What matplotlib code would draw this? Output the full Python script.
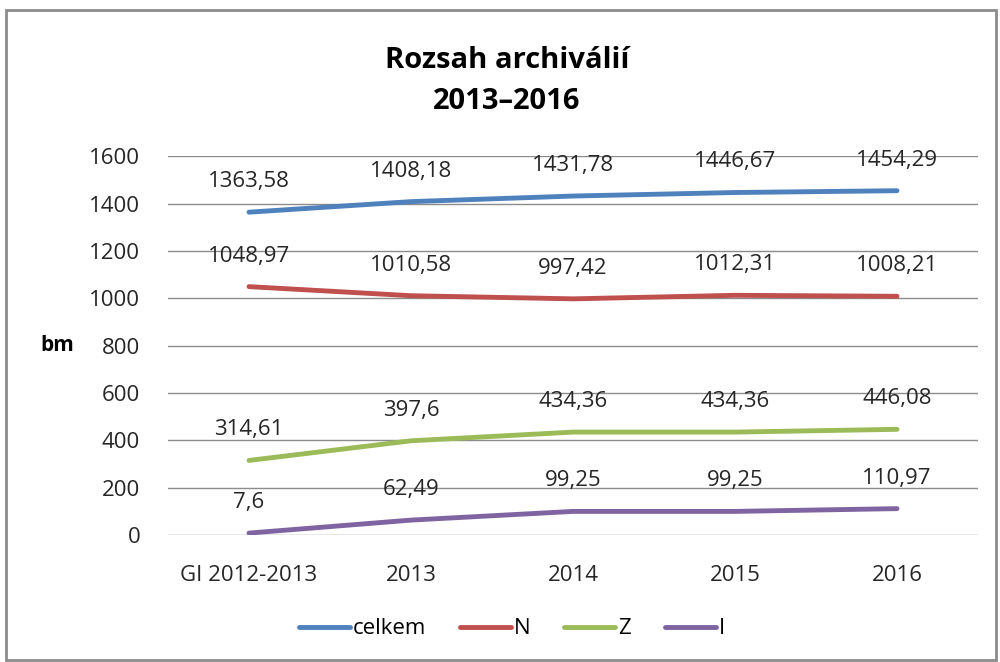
import matplotlib.pyplot as plt
from matplotlib.patches import Rectangle

categories = ["GI 2012-2013", "2013", "2014", "2015", "2016"]
celkem = [1363.58, 1408.18, 1431.78, 1446.67, 1454.29]
n_vals = [1048.97, 1010.58, 997.42, 1012.31, 1008.21]
z_vals = [314.61, 397.6, 434.36, 434.36, 446.08]
i_vals = [7.6, 62.49, 99.25, 99.25, 110.97]
series = [("celkem", celkem, "#4F81BD"),
          ("N", n_vals, "#C0504D"),
          ("Z", z_vals, "#9BBB59"),
          ("I", i_vals, "#8064A2")]

plt.rcParams['font.family'] = ['Open Sans', 'DejaVu Sans']

fig = plt.figure(figsize=(10, 6.62), dpi=100)
fig.patches.append(Rectangle((0.006, 0.003), 0.99, 0.982, transform=fig.transFigure,
                             fill=False, edgecolor="#8c8c8c", linewidth=2))
ax = fig.add_axes([0.168, 0.192, 0.81, 0.572])

x = list(range(len(categories)))
for name, vals, col in series:
    ax.plot(x, vals, color=col, linewidth=3.5, label=name, solid_capstyle="round")
    for xi, v in zip(x, vals):
        lbl = ("%g" % v).replace(".", ",")
        ax.annotate(lbl, (xi, v), xytext=(0, 22), textcoords="offset points",
                    ha="center", va="center", fontsize=16, color="#262626")

ax.set_xlim(-0.5, 4.5)
ax.set_ylim(0, 1600)
ax.set_yticks(range(0, 1601, 200))
ax.set_xticks(x)
ax.set_xticklabels(categories)
ax.tick_params(length=0, labelsize=16, colors="#262626")
ax.tick_params(axis="x", pad=22)
ax.tick_params(axis="y", pad=20)
ax.grid(axis="y", color="#8c8c8c", linewidth=1)
ax.set_axisbelow(True)
for s in ax.spines.values():
    s.set_visible(False)

fig.text(0.04, 0.478, "bm", fontsize=15, fontweight="bold", va="center", ha="left")
fig.text(0.507, 0.877, "Rozsah archiválií\n2013–2016", fontsize=21, fontweight="bold",
         ha="center", va="center", linespacing=1.55)

fig.legend(loc="center", bbox_to_anchor=(0.512, 0.05), ncol=4, frameon=False,
           fontsize=16, handlelength=2.3, handletextpad=0.15, columnspacing=1.5)

fig.savefig("out.png", dpi=100)
